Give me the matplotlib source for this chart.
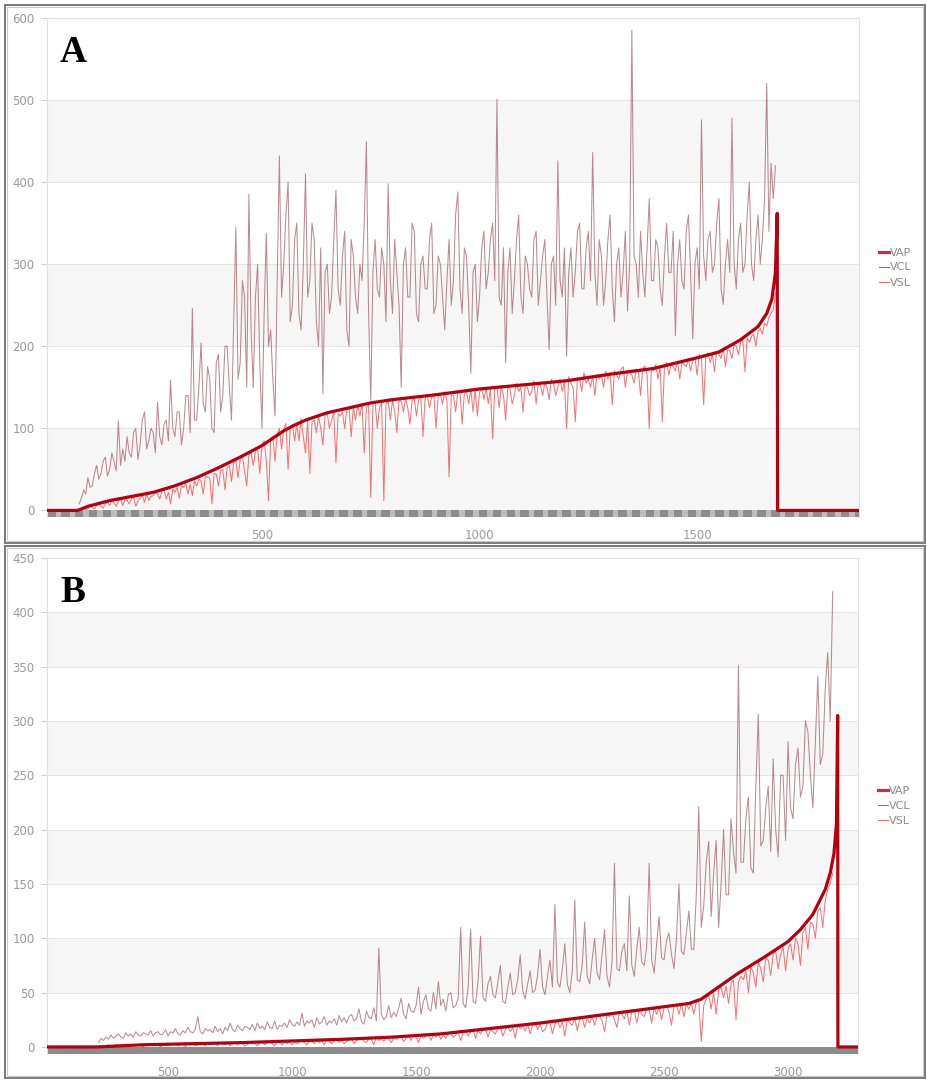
import numpy as np
import matplotlib
matplotlib.use("Agg")
import matplotlib.pyplot as plt
from matplotlib.patches import Rectangle

# ---- panel A data (sample index vs velocity), one value every 5 samples ----
a_start, a_step = 80, 5
vcl_a = [8, 15, 25, 20, 40, 28, 30, 45, 55, 38, 45, 60, 65, 42, 50, 70, 60, 48, 109, 55,
         75, 60, 90, 70, 65, 95, 100, 62, 80, 110, 120, 75, 85, 100, 95, 70, 132, 90, 80, 105,
         110, 85, 159, 100, 90, 120, 120, 80, 100, 140, 140, 95, 246, 110, 110, 150, 204, 130, 120, 175,
         160, 100, 95, 180, 190, 120, 140, 200, 200, 150, 110, 230, 345, 160, 180, 280, 260, 150, 385, 220,
         150, 260, 300, 180, 100, 240, 338, 200, 220, 160, 115, 280, 432, 260, 300, 360, 400, 230, 250, 330,
         350, 240, 220, 300, 410, 260, 280, 350, 330, 230, 200, 320, 142, 290, 300, 240, 260, 330, 390, 270,
         250, 310, 340, 220, 200, 330, 310, 260, 240, 300, 280, 350, 449, 240, 134, 290, 330, 270, 260, 320,
         300, 230, 398, 280, 240, 330, 290, 250, 150, 300, 320, 260, 260, 350, 340, 240, 230, 300, 310, 270,
         270, 330, 350, 240, 250, 310, 300, 260, 220, 280, 330, 250, 280, 360, 388, 270, 240, 320, 310, 250,
         167, 290, 300, 230, 260, 320, 340, 270, 290, 330, 350, 280, 501, 260, 250, 320, 180, 290, 320, 240,
         280, 330, 360, 260, 240, 310, 300, 270, 260, 330, 340, 250, 280, 310, 330, 260, 196, 300, 310, 250,
         426, 280, 260, 320, 188, 290, 320, 260, 290, 340, 350, 270, 270, 320, 340, 280, 436, 290, 250, 330,
         310, 250, 280, 330, 360, 270, 230, 300, 320, 260, 290, 340, 243, 300, 585, 310, 300, 260, 340, 290,
         260, 320, 380, 280, 280, 330, 320, 270, 250, 310, 350, 290, 290, 340, 213, 300, 330, 280, 270, 340,
         360, 290, 209, 300, 320, 270, 476, 310, 280, 330, 340, 290, 300, 350, 380, 270, 251, 300, 330, 290,
         478, 300, 270, 330, 350, 290, 300, 360, 400, 300, 280, 330, 360, 300, 330, 380, 520, 340, 423, 380,
         420]
vsl_a = [0, 2, 3, 1, 2, 5, 4, 2, 6, 8, 5, 3, 8, 10, 6, 12, 9, 5, 11, 14,
         6, 13, 12, 8, 14, 16, 5, 12, 15, 18, 10, 20, 12, 17, 18, 22, 20, 14, 23, 25,
         14, 22, 8, 26, 22, 28, 15, 30, 28, 33, 20, 32, 18, 36, 30, 38, 36, 20, 42, 40,
         40, 8, 45, 44, 30, 48, 50, 25, 52, 55, 35, 58, 60, 40, 62, 66, 48, 30, 68, 70,
         55, 72, 76, 45, 78, 85, 60, 12, 88, 90, 60, 92, 100, 75, 98, 106, 50, 100, 105, 85,
         105, 85, 112, 90, 70, 110, 45, 108, 110, 95, 115, 100, 80, 116, 118, 100, 110, 120, 58, 118,
         115, 120, 100, 122, 125, 90, 126, 110, 128, 115, 130, 70, 125, 128, 16, 130, 132, 100, 125, 131,
         12, 130, 133, 110, 135, 120, 95, 134, 133, 120, 136, 125, 105, 134, 136, 115, 135, 138, 90, 137,
         140, 125, 138, 142, 100, 140, 141, 130, 143, 135, 41, 141, 140, 120, 144, 146, 105, 142, 145, 130,
         148, 120, 147, 115, 144, 149, 135, 150, 130, 148, 87, 148, 150, 125, 152, 140, 110, 150, 148, 130,
         140, 155, 145, 150, 120, 153, 150, 140, 145, 158, 130, 155, 152, 140, 156, 150, 135, 160, 155, 140,
         150, 160, 145, 158, 100, 163, 155, 150, 108, 162, 160, 145, 168, 155, 160, 150, 164, 140, 166, 160,
         165, 150, 170, 160, 168, 129, 170, 165, 160, 172, 175, 150, 170, 168, 165, 155, 172, 170, 140, 173,
         176, 165, 100, 174, 170, 178, 160, 175, 108, 176, 180, 165, 178, 175, 170, 182, 160, 180, 178, 175,
         185, 170, 182, 186, 165, 190, 185, 129, 188, 192, 180, 190, 169, 194, 190, 185, 198, 175, 196, 195,
         185, 202, 200, 190, 205, 208, 169, 210, 205, 212, 215, 200, 218, 222, 215, 228, 225, 235, 240, 245,
         265]
vap_a_x = [0, 76, 100, 150, 200, 250, 300, 350, 400, 450, 500, 550, 575, 600,
           650, 700, 750, 800, 900, 1000, 1100, 1200, 1300, 1400, 1500, 1550,
           1600, 1640, 1660, 1672, 1680, 1684, 1685, 1872]
vap_a = [0, 0, 5, 12, 17, 22, 30, 40, 52, 65, 79, 97, 104, 110,
         119, 125, 131, 135, 141, 148, 153, 158, 166, 173, 186, 193,
         208, 224, 240, 258, 290, 362, 0, 0]

# ---- panel B data, one value every 10 samples ----
b_start, b_step = 220, 10
vcl_b = [4, 8, 6, 9, 7, 11, 8, 10, 12, 9, 8, 13, 10, 12, 9, 14, 11, 10, 13, 12,
         11, 15, 10, 13, 14, 11, 12, 16, 10, 14, 13, 17, 12, 11, 15, 13, 18, 14, 13, 16,
         28, 14, 12, 17, 15, 16, 13, 19, 14, 17, 12, 18, 15, 22, 16, 14, 20, 17, 15, 19,
         18, 16, 21, 15, 22, 17, 19, 16, 23, 18, 17, 24, 16, 20, 19, 22, 18, 25, 21, 19,
         23, 20, 31, 19, 24, 22, 25, 18, 27, 21, 23, 28, 20, 24, 22, 26, 20, 29, 23, 27,
         22, 28, 30, 24, 26, 35, 23, 21, 33, 27, 26, 36, 24, 91, 30, 25, 28, 38, 27, 32,
         28, 36, 45, 30, 26, 40, 33, 32, 38, 55, 30, 42, 48, 35, 33, 50, 35, 60, 38, 44,
         33, 48, 50, 36, 38, 45, 110, 40, 36, 55, 108, 42, 40, 60, 102, 45, 42, 58, 65, 48,
         45, 60, 75, 42, 40, 55, 68, 48, 50, 62, 85, 52, 44, 58, 70, 50, 52, 66, 90, 55,
         48, 65, 80, 55, 131, 60, 55, 72, 95, 58, 50, 70, 135, 62, 60, 75, 115, 65, 58, 80,
         100, 68, 62, 85, 108, 65, 55, 78, 169, 72, 70, 88, 95, 70, 139, 75, 65, 90, 110, 78,
         75, 92, 169, 80, 68, 95, 120, 82, 80, 98, 105, 85, 72, 100, 150, 88, 85, 105, 125, 90,
         90, 140, 221, 110, 130, 170, 189, 120, 160, 190, 110, 150, 200, 140, 140, 210, 180, 160, 351, 170,
         170, 210, 230, 165, 160, 240, 306, 185, 190, 220, 240, 180, 265, 200, 175, 250, 250, 190, 281, 220,
         210, 260, 275, 230, 240, 300, 290, 250, 220, 280, 341, 260, 270, 330, 363, 300, 419]
vsl_b = [0, 1, 0, 1, 2, 0, 1, 2, 1, 0, 2, 1, 2, 0, 2, 1, 2, 1, 0, 2,
         1, 2, 3, 1, 2, 0, 3, 2, 1, 3, 2, 3, 1, 2, 3, 0, 3, 2, 3, 1,
         2, 3, 4, 1, 3, 2, 4, 3, 1, 4, 3, 2, 4, 1, 3, 4, 2, 4, 3, 1,
         2, 4, 5, 3, 1, 4, 5, 2, 4, 5, 3, 1, 5, 4, 2, 5, 3, 5, 2, 4,
         3, 5, 6, 4, 2, 6, 5, 3, 6, 4, 6, 2, 7, 5, 3, 6, 7, 4, 6, 3,
         5, 7, 8, 3, 6, 7, 8, 5, 4, 8, 7, 2, 9, 6, 8, 5, 9, 7, 4, 8,
         7, 9, 10, 5, 8, 10, 6, 11, 9, 4, 11, 8, 10, 12, 6, 11, 9, 12, 7, 11,
         8, 12, 13, 9, 11, 14, 6, 13, 15, 10, 14, 16, 8, 15, 12, 16, 17, 9, 16, 14,
         12, 17, 18, 10, 16, 19, 14, 18, 8, 20, 17, 19, 15, 21, 12, 20, 22, 16, 21, 14,
         16, 22, 23, 12, 21, 24, 18, 23, 10, 25, 22, 20, 26, 15, 25, 27, 18, 26, 22, 28,
         20, 28, 29, 24, 14, 30, 28, 31, 25, 18, 32, 30, 26, 33, 20, 32, 34, 22, 33, 30,
         28, 35, 34, 22, 36, 30, 37, 25, 36, 38, 32, 20, 38, 39, 30, 40, 28, 39, 35, 40,
         30, 41, 42, 5, 38, 44, 48, 35, 50, 30, 52, 55, 45, 56, 40, 58, 62, 25, 60, 65,
         62, 70, 50, 74, 68, 55, 78, 72, 60, 82, 80, 66, 85, 88, 72, 85, 92, 70, 90, 95,
         80, 100, 95, 75, 105, 110, 90, 115, 113, 100, 125, 128, 110, 135, 145, 151, 160]
vap_b_x = [0, 214, 400, 600, 800, 1000, 1200, 1400, 1600, 1800, 2000, 2200,
           2400, 2600, 2650, 2700, 2750, 2800, 2900, 3000, 3050, 3100, 3150,
           3170, 3185, 3195, 3200, 3201, 3282]
vap_b = [0, 0, 2, 3, 4, 5.5, 7, 9, 12, 17, 22, 28,
         34, 40, 44, 52, 60, 68, 82, 97, 108, 122, 145,
         160, 178, 205, 305, 0, 0]

VAP_C = "#b5000f"
VCL_C = "#8e3e47"
VSL_C = "#f04848"
GRAY = "#9a9a9a"


def draw_panel(ax, label, xs_start, xs_step, vcl, vsl, vap_x, vap, ymax, ystep,
               ylow, xlim, xticks, bar_pattern):
    xs = xs_start + xs_step * np.arange(len(vcl))
    ax.set_xlim(*xlim)
    ax.set_ylim(ylow, ymax)

    # alternating bands + grid
    for y0 in range(0, ymax, ystep):
        if (ymax - y0 - ystep) // ystep % 2 == 1:
            ax.axhspan(y0, y0 + ystep, color="#f6f6f6", zorder=0, lw=0)
    for y in range(ystep, ymax + 1, ystep):
        ax.axhline(y, color="#e6e6e6", lw=0.8, zorder=0.5)

    ax.plot(xs, vcl, color=VCL_C, lw=0.75, alpha=0.6, zorder=2, label="VCL")
    ax.plot(xs, vsl, color=VSL_C, lw=0.75, alpha=0.75, zorder=3, label="VSL")
    ax.plot(vap_x, vap, color=VAP_C, lw=2.3, zorder=4, label="VAP")

    # x axis bar
    if bar_pattern:
        seg = 32
        for x0 in np.arange(xlim[0], xlim[1], seg):
            ax.add_patch(Rectangle((x0, ylow), seg * 0.62, -ylow, color="#8c8c8c",
                                   lw=0, zorder=1))
            ax.add_patch(Rectangle((x0 + seg * 0.62, ylow), seg * 0.38, -ylow,
                                   color="#bdbdbd", lw=0, zorder=1))
    else:
        ax.add_patch(Rectangle((xlim[0], ylow), xlim[1] - xlim[0], -ylow,
                               color="#8c8c8c", lw=0, zorder=1))

    ax.set_yticks(range(0, ymax + 1, ystep))
    ax.set_xticks(xticks)
    ax.tick_params(axis="y", colors="#d0d0d0", labelcolor=GRAY, labelsize=8.5,
                   length=4, width=0.8, pad=5)
    ax.tick_params(axis="x", labelcolor=GRAY, labelsize=8.5, length=0, pad=9)
    for s in ax.spines.values():
        s.set_color("#e0e0e0")
        s.set_linewidth(0.8)
    ax.spines["bottom"].set_visible(False)

    ax.text(0.016, 0.93, label, transform=ax.transAxes, fontsize=27,
            fontweight="bold", family="Liberation Serif", va="center", ha="left")

    h, l = ax.get_legend_handles_labels()
    order = [2, 0, 1]
    leg = ax.legend([h[i] for i in order], [l[i] for i in order],
                    loc="center left", bbox_to_anchor=(1.012, 0.5),
                    frameon=False, fontsize=8, handlelength=0.9,
                    handletextpad=0.1, labelspacing=0.45, labelcolor="#888")
    for line in leg.get_lines():
        line.set_alpha(0.8)


fig = plt.figure(figsize=(9.27, 10.8), dpi=100)

ax_a = fig.add_axes([47 / 927, 1 - 517 / 1080, 812 / 927, 499 / 1080])
draw_panel(ax_a, "A", a_start, a_step, vcl_a, vsl_a, vap_a_x, vap_a, 600, 100,
           -8, (6, 1872), [500, 1000, 1500], True)

ax_b = fig.add_axes([47 / 927, 1 - 1054 / 1080, 811 / 927, 496 / 1080])
draw_panel(ax_b, "B", b_start, b_step, vcl_b, vsl_b, vap_b_x, vap_b, 450, 50,
           -6.5, (12, 3282), [500, 1000, 1500, 2000, 2500, 3000], False)

# panel frames
for top, bot in [(5, 543), (546, 1078)]:
    fig.add_artist(Rectangle((5 / 927, 1 - bot / 1080), 920 / 927, (bot - top) / 1080,
                             transform=fig.transFigure, fill=False,
                             edgecolor="#7a7a7a", lw=1.4))
    fig.add_artist(Rectangle((7 / 927, 1 - (bot - 2) / 1080), 916 / 927,
                             (bot - top - 4) / 1080, transform=fig.transFigure,
                             fill=False, edgecolor="#c8c8c8", lw=0.8))

fig.savefig("out.png", dpi=100)
